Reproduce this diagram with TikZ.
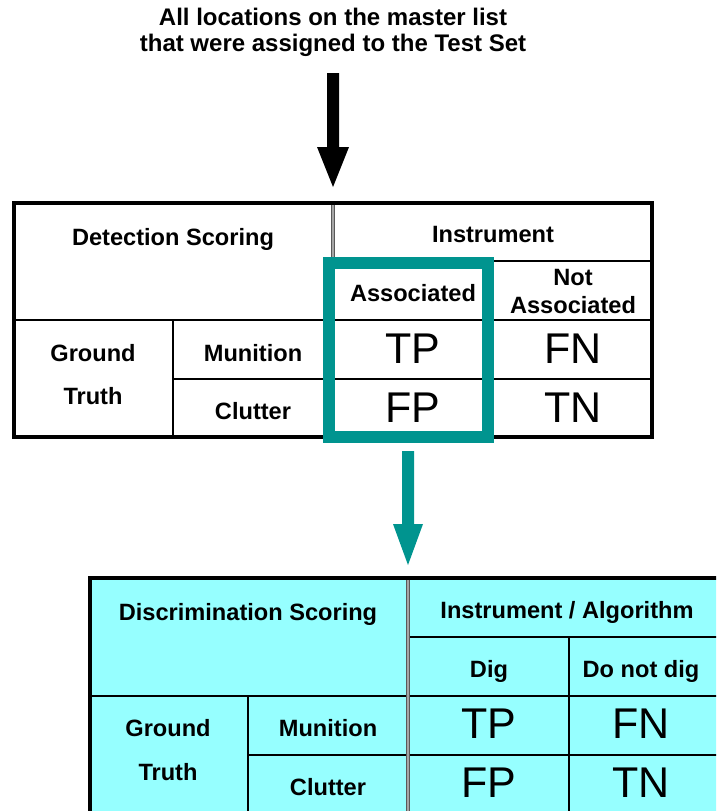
\documentclass[tikz,border=0pt]{standalone}
\usepackage{fontspec}
\setmainfont{Liberation Sans}
\usetikzlibrary{calc}
\begin{document}
\begin{tikzpicture}[x=1pt,y=-1pt,
  lbl/.style={font=\bfseries\fontsize{23.6}{27}\selectfont, anchor=base, inner sep=0pt},
  ttl/.style={font=\bfseries\fontsize{24}{27}\selectfont, anchor=base, inner sep=0pt},
  big/.style={font=\fontsize{43}{48}\selectfont, anchor=base, inner sep=0pt},
  outer/.style={line width=4pt},
  inner/.style={line width=1.5pt},
  dbl/.style={line width=4pt, draw=black!65},
  dblin/.style={line width=1.4pt, draw=black!35}]
\definecolor{teal1}{RGB}{0,148,143}
\definecolor{cyanfill}{RGB}{150,255,255}
\useasboundingbox (0,0) rectangle (716,811);
\clip (0,0) rectangle (716,811);

% title
\node[ttl] (t1) at (333,25) {All locations on the master list};
\node[ttl] (t2) at (333,51) {that were assigned to the Test Set};

% black arrow
\coordinate (a1s) at (333,73);
\coordinate (a1e) at (333,187);
\fill[black] ($(a1s)+(-6,0)$) -- ($(a1s)+(6,0)$) -- ($(a1e)+(6,-40)$) -- ($(a1e)+(16,-40)$) -- (a1e) -- ($(a1e)+(-16,-40)$) -- ($(a1e)+(-6,-40)$) -- cycle;

% ---------- top table
\fill[white] (14,203) rectangle (651.5,437);
\draw[inner] (493,261) -- (651.5,261);
\draw[inner] (14,320) -- (651.5,320);
\draw[inner] (173,379) -- (651.5,379);
\draw[inner] (173,320) -- (173,437);
\draw[inner] (493,261) -- (493,437);
\draw[dbl] (333,203) -- (333,437);
\draw[dblin] (333,205) -- (333,435);
\draw[outer] (14,203) rectangle (651.5,437);

\node[lbl] (ds) at (173,245) {Detection Scoring};
\node[lbl] (ins) at (493,242) {Instrument};
\node[lbl] (asc) at (413,301) {Associated};
\node[lbl] (nas1) at (573,285) {Not};
\node[lbl] (nas2) at (573,313) {Associated};
\node[lbl] (gt1) at (93,361) {Ground};
\node[lbl] (gt2) at (93,404) {Truth};
\node[lbl] (mun) at (253,361) {Munition};
\node[lbl] (clu) at (253,419) {Clutter};
\node[big] (tp) at (413,363) {TP};
\node[big] (fn) at (573,363) {FN};
\node[big] (fp) at (413,422) {FP};
\node[big] (tn) at (573,422) {TN};

% teal highlight box
\draw[teal1, line width=12pt] (329,263) rectangle (488,437);

% teal arrow
\coordinate (a2s) at (408,451);
\coordinate (a2e) at (408,565);
\fill[teal1] ($(a2s)+(-6,0)$) -- ($(a2s)+(6,0)$) -- ($(a2e)+(6,-41)$) -- ($(a2e)+(15,-41)$) -- (a2e) -- ($(a2e)+(-15,-41)$) -- ($(a2e)+(-6,-41)$) -- cycle;

% ---------- bottom table
\fill[cyanfill] (89.5,578) rectangle (724,820);
\draw[inner] (408,637) -- (724,637);
\draw[inner] (89.5,696) -- (724,696);
\draw[inner] (248,755) -- (724,755);
\draw[inner] (248,696) -- (248,820);
\draw[inner] (569,637) -- (569,820);
\draw[dbl] (408,578) -- (408,820);
\draw[dblin] (408,580) -- (408,820);
\draw[outer] (89.5,578) rectangle (724,814);

\node[lbl] (dis) at (248,620) {Discrimination Scoring};
\node[lbl] (ia) at (567,618) {Instrument / Algorithm};
\node[lbl] (dig) at (489,677) {Dig};
\node[lbl] (ndig) at (641,677) {Do not dig};
\node[lbl] (bgt1) at (168,736) {Ground};
\node[lbl] (bgt2) at (168,780) {Truth};
\node[lbl] (bmun) at (328,736) {Munition};
\node[lbl] (bclu) at (328,795) {Clutter};
\node[big] (btp) at (489,738) {TP};
\node[big] (bfn) at (641,738) {FN};
\node[big] (bfp) at (489,797) {FP};
\node[big] (btn) at (641,797) {TN};
\end{tikzpicture}
\end{document}
